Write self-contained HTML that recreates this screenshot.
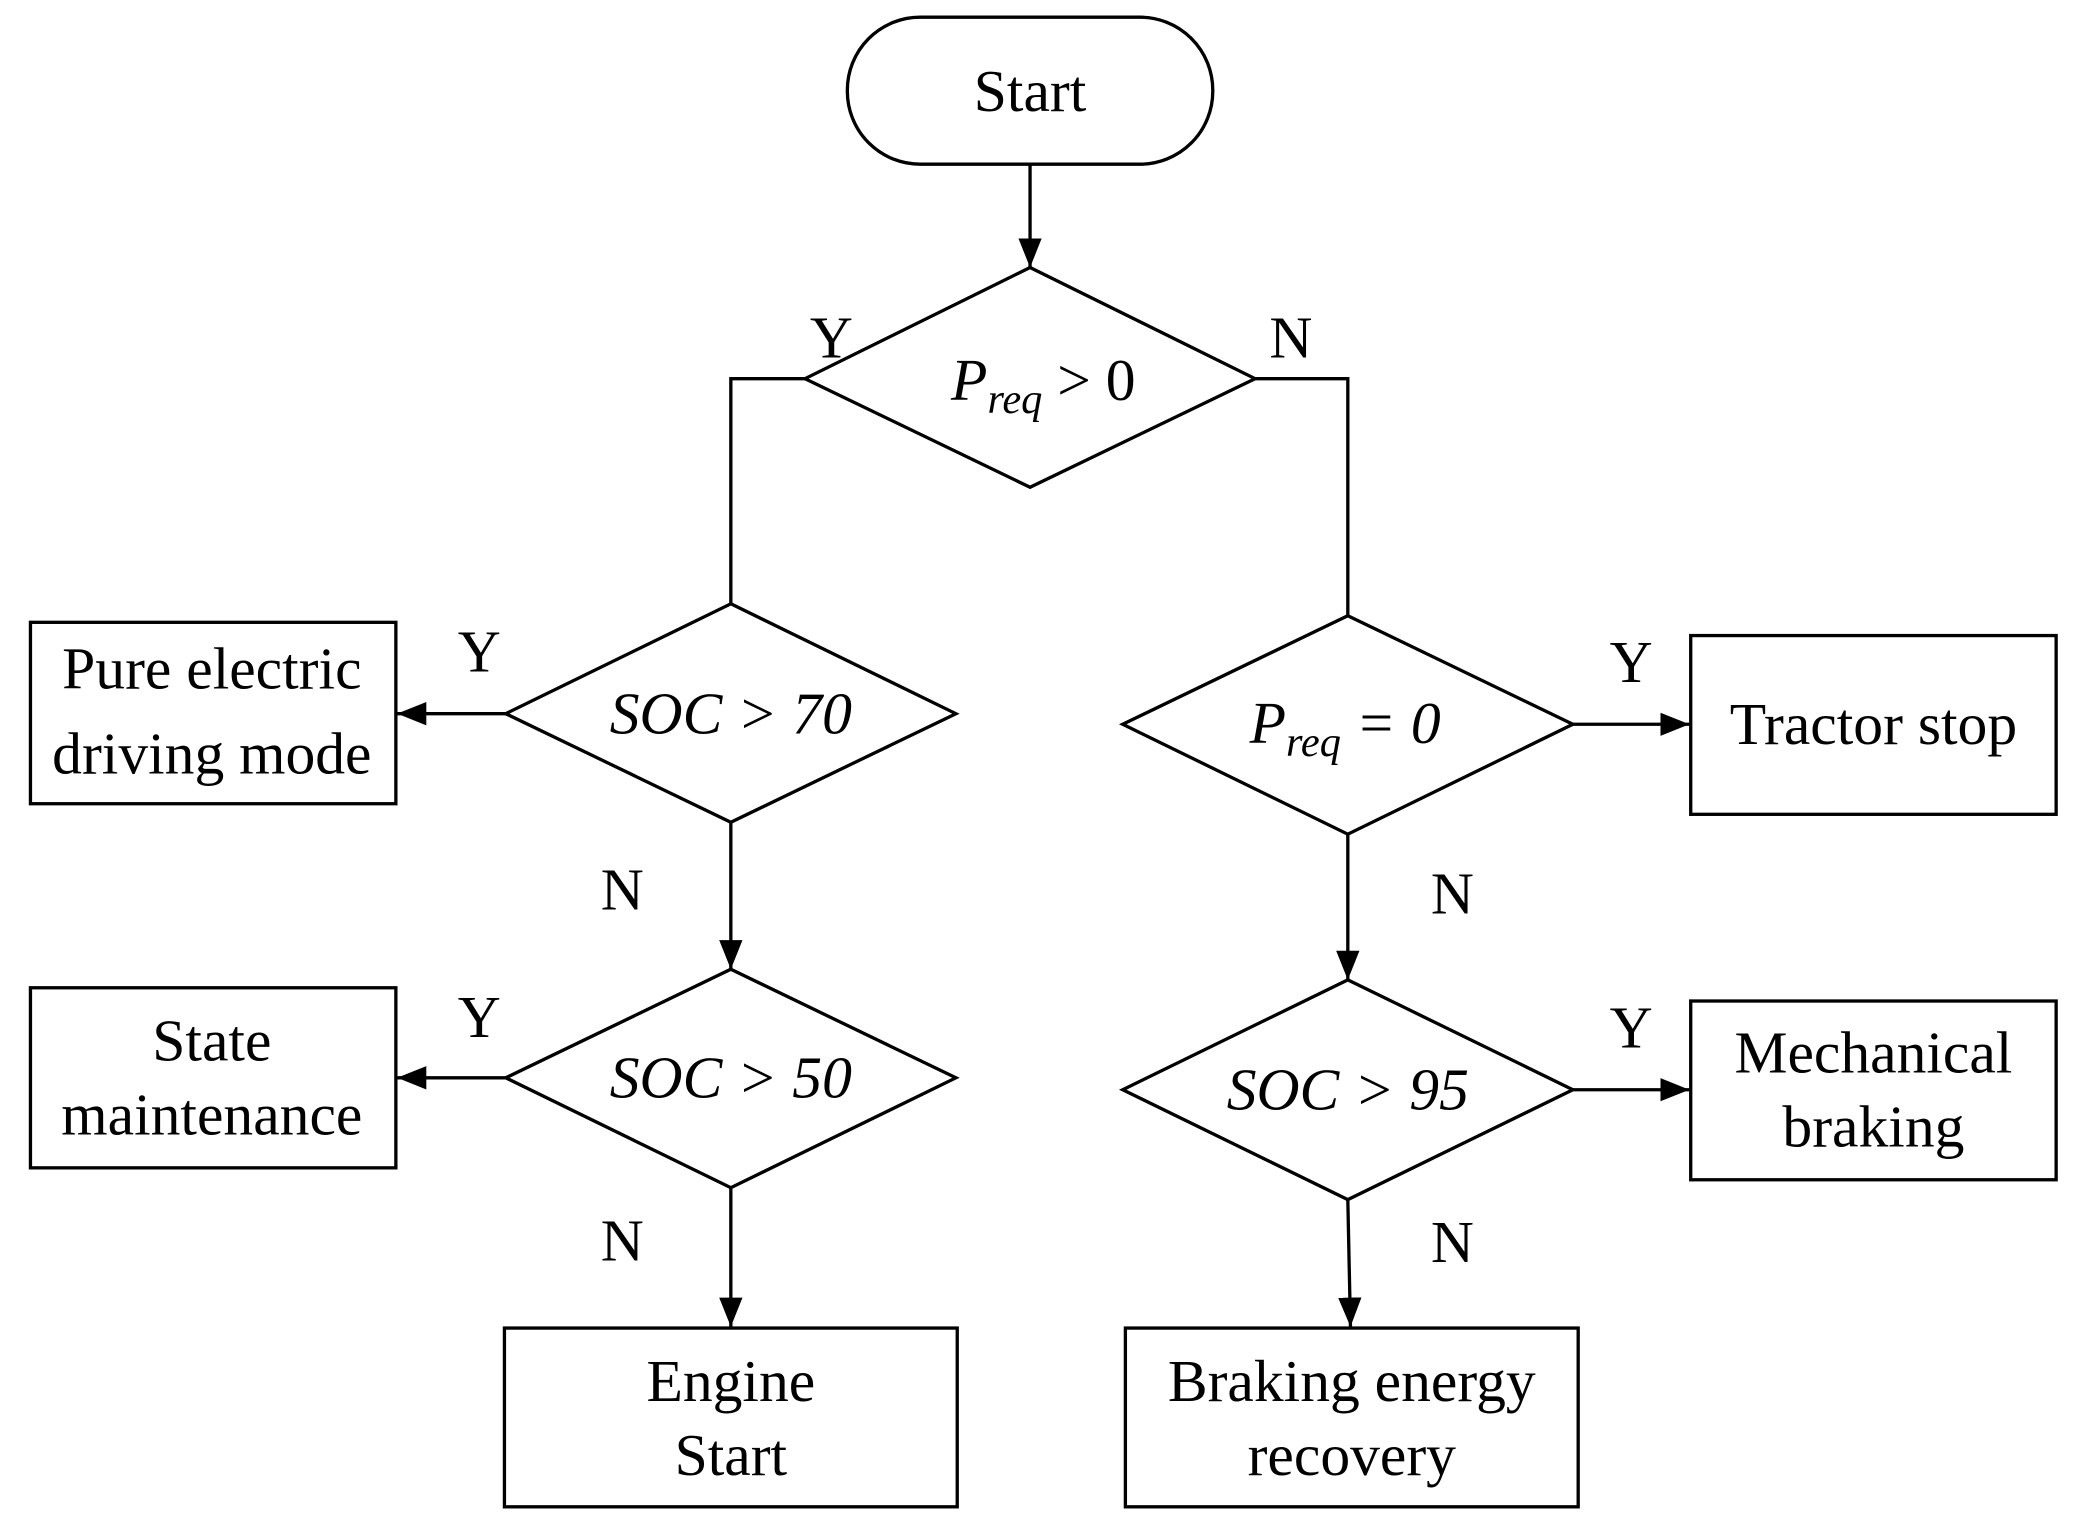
<!DOCTYPE html>
<html><head><meta charset="utf-8"><style>html,body{margin:0;padding:0;background:#fff}svg{display:block}</style></head>
<body>
<svg width="2076" height="1528" viewBox="0 0 1568 1154" preserveAspectRatio="none" xmlns="http://www.w3.org/2000/svg">
<defs>
<marker id="b" viewBox="0 0 20 16" markerWidth="22" markerHeight="18" refX="20" refY="8" orient="auto" markerUnits="userSpaceOnUse"><path d="M0,0 L20,8 L0,16 z" fill="#000"/></marker></defs>
<g fill="none" stroke="#000" stroke-width="2.5">
<rect x="640" y="13" width="276" height="111" rx="55"/>
<polygon points="778,202 948,286 778,368 608,286"/>
<polygon points="552,456 722,539 552,621 382,539"/>
<polygon points="552,732 722,814 552,897 382,814"/>
<polygon points="1018,465 1188,547 1018,630 848,547"/>
<polygon points="1018,740 1188,823 1018,906 848,823"/>
<rect x="23" y="470" width="276" height="137"/>
<rect x="23" y="746" width="276" height="136"/>
<rect x="381" y="1003" width="342" height="135"/>
<rect x="1277" y="480" width="276" height="135"/>
<rect x="1277" y="756" width="276" height="135"/>
<rect x="850" y="1003" width="342" height="135"/>
<polyline points="608,286 552,286 552,456"/>
<polyline points="948,286 1018,286 1018,465"/>
<line x1="778" y1="124" x2="778" y2="202" marker-end="url(#b)"/>
<line x1="382" y1="539" x2="300" y2="539" marker-end="url(#b)"/>
<line x1="382" y1="814" x2="300" y2="814" marker-end="url(#b)"/>
<line x1="552" y1="621" x2="552" y2="732" marker-end="url(#b)"/>
<line x1="552" y1="897" x2="552" y2="1002" marker-end="url(#b)"/>
<line x1="1188" y1="547" x2="1276" y2="547" marker-end="url(#b)"/>
<line x1="1188" y1="823" x2="1276" y2="823" marker-end="url(#b)"/>
<line x1="1018" y1="630" x2="1018" y2="740" marker-end="url(#b)"/>
<line x1="1018" y1="906" x2="1020" y2="1002" marker-end="url(#b)"/>
</g>
<g font-family="Liberation Serif, serif" font-size="45" text-anchor="middle" fill="#000">
<text x="778" y="84">Start</text>
<text x="628" y="270">Y</text><text x="975" y="270">N</text>
<text x="362" y="507">Y</text><text x="362" y="783">Y</text>
<text x="470" y="687">N</text><text x="470" y="952">N</text>
<text x="1232" y="515">Y</text><text x="1232" y="791">Y</text>
<text x="1097" y="690">N</text><text x="1097" y="953">N</text>
<text x="160" y="520">Pure electric</text><text x="160" y="584">driving mode</text>
<text x="160" y="801">State</text><text x="160" y="857">maintenance</text>
<text x="552" y="1058">Engine</text><text x="552" y="1114">Start</text>
<text x="1415" y="562">Tractor stop</text>
<text x="1415" y="810">Mechanical</text><text x="1415" y="866">braking</text>
<text x="1021" y="1058">Braking energy</text><text x="1021" y="1114">recovery</text>
<text x="552" y="554" font-style="italic">SOC &gt; 70</text>
<text x="552" y="829" font-style="italic">SOC &gt; 50</text>
<text x="1018" y="838" font-style="italic">SOC &gt; 95</text>
<text x="788" y="302"><tspan font-style="italic">P</tspan><tspan font-style="italic" font-size="32" dy="10">req</tspan><tspan dy="-10"> &gt; 0</tspan></text>
<text x="1016" y="561"><tspan font-style="italic">P</tspan><tspan font-style="italic" font-size="32" dy="10">req</tspan><tspan font-style="italic" dy="-10"> = 0</tspan></text>
</g>
</svg>
</body></html>
